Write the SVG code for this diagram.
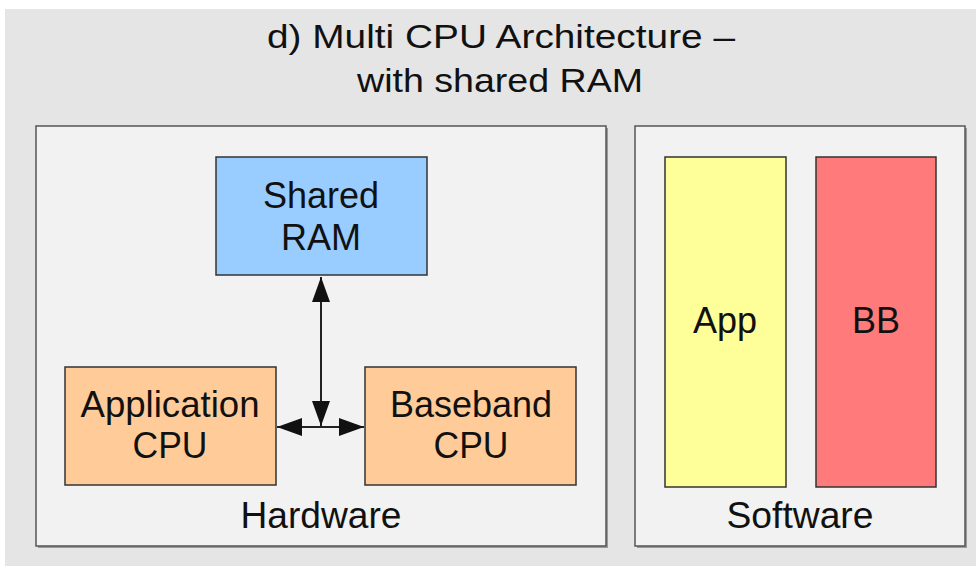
<svg xmlns="http://www.w3.org/2000/svg" width="976" height="566" viewBox="0 0 976 566">
<defs>
<style>
text{font-family:"Liberation Sans",Arial,sans-serif;fill:#111;text-anchor:middle}
.t{font-size:33px}
.l{font-size:36px}
.panel{fill:#f2f2f2;stroke:#555;stroke-width:1.5}
.shadow{fill:#9a9a9a}
.node{stroke:#333;stroke-width:1.5}
.conn{stroke:#222;stroke-width:2;fill:none}
</style>
<marker id="ah" viewBox="0 0 25 18" refX="25" refY="9" markerWidth="25" markerHeight="18" markerUnits="userSpaceOnUse" orient="auto-start-reverse">
<path d="M0,0 L25,9 L0,18 Z" fill="#111"/>
</marker>
</defs>
<rect x="0" y="0" width="976" height="566" fill="#ffffff"/>
<rect x="5" y="9" width="971" height="557" fill="#e5e5e5"/>
<g id="title">
<text class="t" x="501" y="48" textLength="468" lengthAdjust="spacingAndGlyphs">d)  Multi CPU Architecture –</text>
<text class="t" x="500" y="92" textLength="286" lengthAdjust="spacingAndGlyphs">with shared RAM</text>
</g>
<g id="hardware">
<rect class="shadow" x="38" y="128" width="570" height="420"/>
<rect class="panel" x="36" y="126" width="570" height="420"/>
<text class="l" x="321" y="528" textLength="161" lengthAdjust="spacingAndGlyphs">Hardware</text>
</g>
<g id="software">
<rect class="shadow" x="637" y="128" width="330" height="420"/>
<rect class="panel" x="635" y="126" width="330" height="420"/>
<text class="l" x="800" y="528" textLength="147" lengthAdjust="spacingAndGlyphs">Software</text>
</g>
<g id="shared-ram">
<rect class="node" x="216" y="157" width="211" height="118" fill="#99ccff"/>
<text class="l" x="321" y="208">Shared</text>
<text class="l" x="321" y="250">RAM</text>
</g>
<g id="application-cpu">
<rect class="node" x="65" y="367" width="211" height="118" fill="#ffcc99"/>
<text class="l" x="170" y="417" textLength="179" lengthAdjust="spacingAndGlyphs">Application</text>
<text class="l" x="170" y="458" textLength="75" lengthAdjust="spacingAndGlyphs">CPU</text>
</g>
<g id="baseband-cpu">
<rect class="node" x="365" y="367" width="211" height="118" fill="#ffcc99"/>
<text class="l" x="471" y="417">Baseband</text>
<text class="l" x="471" y="458" textLength="75" lengthAdjust="spacingAndGlyphs">CPU</text>
</g>
<g id="app">
<rect class="node" x="665" y="157" width="121" height="330" fill="#ffff99"/>
<text class="l" x="725" y="333">App</text>
</g>
<g id="bb">
<rect class="node" x="816" y="157" width="120" height="330" fill="#ff7a7a"/>
<text class="l" x="876" y="333">BB</text>
</g>
<g id="connectors">
<line class="conn" x1="321" y1="426" x2="321" y2="277" marker-end="url(#ah)" marker-start="url(#ah)"/>
<line class="conn" x1="277" y1="427" x2="364" y2="427" marker-start="url(#ah)" marker-end="url(#ah)"/>
</g>
</svg>
